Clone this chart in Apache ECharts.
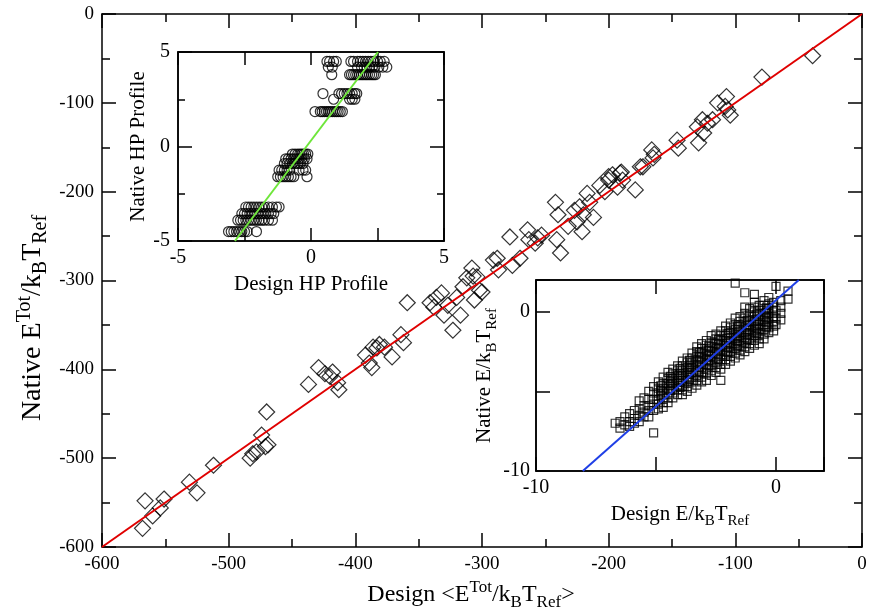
<!DOCTYPE html>
<html><head><meta charset="utf-8">
<script src="https://cdn.jsdelivr.net/npm/echarts@6/dist/echarts.min.js"></script>
<style>html,body{margin:0;padding:0;background:#fff}#c{width:870px;height:611px}</style>
</head><body><div id="c"></div><script>
// ---- main panel: design vs native total energy ----
const designTot = [-566,-568,-560,-554,-551,-531,-525,-512,-483,-481,-478,-469,-474,-470,-471,-437,-429,-424,-418,-414,-413,-420,-392,-389,-387,-386,-383,-381,-377,-371,-364,-362,-359,-341,-338,-336,-332,-330,-327,-323,-320,-317,-315,-312,-308,-306,-302,-300,-307,-304,-291,-288,-287,-276,-270,-278,-264,-263,-258,-256,-253,-241,-238,-242,-240,-232,-225,-227,-223,-221,-220,-217,-215,-212,-207,-203,-200,-197,-190,-193,-189,-179,-175,-200,-191,-173,-166,-165,-164,-146,-145,-130,-129,-126,-125,-122,-118,-114,-107,-106,-104,-108,-79,-39];
const nativeTot = [-548,-579,-565,-556,-546,-527,-539,-508,-500,-495,-493,-485,-474,-448,-487,-417,-398,-405,-403,-415,-423,-408,-384,-393,-398,-375,-376,-372,-375,-386,-361,-370,-325,-325,-330,-319,-314,-339,-328,-356,-319,-339,-307,-297,-286,-322,-311,-313,-295,-296,-277,-275,-288,-283,-275,-251,-243,-254,-258,-252,-249,-254,-269,-212,-226,-239,-234,-221,-217,-245,-226,-202,-212,-229,-193,-200,-183,-181,-178,-195,-187,-198,-172,-187,-179,-172,-153,-162,-158,-142,-151,-127,-145,-119,-134,-123,-119,-100,-93,-108,-114,-104,-71,-47];
const mainDiagonal = [[-600,-600],[0,0]];

// ---- inset 1: HP profile (rows: native value, design values) ----
const hpRows = [
  [4.5, [0.6,0.7,0.85,0.95,1.5,1.6,1.75,1.85,1.95,2.05,2.15,2.25,2.35,2.5,2.6,2.75]],
  [4.2, [0.65,0.8,1.75,1.9,2.0,2.1,2.2,2.3,2.4,2.55,2.7,2.85]],
  [3.8, [0.78,1.45,1.52,1.6,1.68,1.75,1.82,1.9,1.97,2.05,2.12,2.2,2.28,2.35,2.42]],
  [2.8, [0.45,1.05,1.15,1.25,1.35,1.45,1.55,1.65,1.72]],
  [2.5, [0.85,1.45,1.55,1.65]],
  [1.85,[0.15,0.35,0.42,0.5,0.58,0.65,0.72,0.8,0.88,0.95,1.02,1.1,1.18]],
  [-0.4,[-0.7,-0.6,-0.5,-0.42,-0.35,-0.28,-0.2,-0.12]],
  [-0.65,[-0.95,-0.85,-0.75,-0.65,-0.55,-0.45,-0.35,-0.25,-0.15]],
  [-0.9,[-1.0,-0.9,-0.8,-0.7,-0.6,-0.5,-0.4,-0.3]],
  [-1.25,[-1.2,-1.1,-1.0,-0.9,-0.8,-0.45,-0.3,-0.2]],
  [-1.6,[-1.25,-1.15,-1.05,-0.95,-0.85,-0.75,-0.65,-0.15]],
  [-3.2,[-2.45,-2.35,-2.25,-2.15,-2.05,-1.95,-1.85,-1.75,-1.6,-1.45,-1.3,-1.2]],
  [-3.55,[-2.6,-2.5,-2.4,-2.3,-2.2,-2.1,-2.0,-1.9,-1.8,-1.7,-1.6,-1.5,-1.4]],
  [-3.9,[-2.75,-2.65,-2.55,-2.45,-2.35,-2.25,-2.15,-2.05,-1.95,-1.85,-1.75,-1.6,-1.45]],
  [-4.5,[-3.1,-3.0,-2.9,-2.8,-2.7,-2.6,-2.5,-2.4,-2.05]]
];
const hpFit = [[-2.86,-5],[2.52,5]];

// ---- inset 2: per-residue energies (columns: design value, native values) ----
const eCols = [
  [-6.7,[-7.0]],[-6.5,[-6.9,-7.3]],[-6.3,[-6.6,-7.1]],[-6.1,[-6.4,-6.9,-7.2]],
  [-5.9,[-6.2,-6.7,-7.0]],[-5.7,[-5.6,-6.1,-6.5,-6.9]],[-5.5,[-5.4,-5.9,-6.3,-6.6]],
  [-5.3,[-5.0,-5.5,-5.9,-6.2,-6.6]],[-5.1,[-4.7,-5.1,-5.5,-5.8,-6.2,-7.6]],
  [-4.9,[-4.4,-4.8,-5.1,-5.5,-5.8,-6.1]],[-4.7,[-4.1,-4.5,-4.8,-5.1,-5.4,-5.7,-6.0]],
  [-4.5,[-3.8,-4.2,-4.5,-4.8,-5.1,-5.4,-5.7]],[-4.3,[-3.6,-3.9,-4.2,-4.5,-4.8,-5.1,-5.4]],
  [-4.1,[-3.4,-3.7,-4.0,-4.3,-4.6,-4.9,-5.2]],[-3.9,[-3.1,-3.4,-3.7,-4.0,-4.3,-4.6,-4.9,-5.2]],
  [-3.7,[-2.9,-3.2,-3.5,-3.8,-4.1,-4.4,-4.7,-5.0]],[-3.5,[-2.6,-2.9,-3.2,-3.5,-3.8,-4.1,-4.4,-4.8]],
  [-3.3,[-2.2,-2.5,-2.8,-3.1,-3.4,-3.7,-4.0,-4.3,-4.6]],[-3.1,[-2.0,-2.3,-2.6,-2.9,-3.2,-3.5,-3.8,-4.1,-4.4]],
  [-2.9,[-1.8,-2.1,-2.4,-2.7,-3.0,-3.3,-3.6,-3.9,-4.3]],[-2.7,[-1.5,-1.9,-2.2,-2.5,-2.8,-3.1,-3.4,-3.7,-4.0]],
  [-2.5,[-1.4,-1.7,-2.0,-2.3,-2.6,-2.9,-3.2,-3.5,-3.8]],[-2.3,[-1.2,-1.5,-1.8,-2.1,-2.4,-2.7,-3.0,-3.3,-3.6,-4.3]],
  [-2.1,[-0.9,-1.2,-1.5,-1.8,-2.1,-2.4,-2.7,-3.0,-3.3]],[-1.9,[-0.7,-1.0,-1.3,-1.6,-1.9,-2.2,-2.5,-2.8,-3.1]],
  [-1.7,[-0.4,-0.8,-1.1,-1.4,-1.7,-2.0,-2.3,-2.6,-2.9,1.8]],[-1.5,[-0.3,-0.6,-0.9,-1.2,-1.5,-1.8,-2.1,-2.4,-2.7]],
  [-1.3,[0.3,-0.1,-0.4,-0.7,-1.0,-1.3,-1.6,-1.9,-2.2,-2.5,1.2]],[-1.1,[0.2,-0.2,-0.5,-0.8,-1.1,-1.4,-1.7,-2.0,-2.3]],
  [-0.9,[0.6,0.3,0.0,-0.3,-0.6,-0.9,-1.2,-1.5,-1.8,-2.1,1.1]],[-0.7,[0.4,0.1,-0.2,-0.5,-0.8,-1.1,-1.4,-1.7,-2.0]],
  [-0.5,[0.7,0.4,0.1,-0.2,-0.5,-0.8,-1.1,-1.4,-1.7]],[-0.3,[0.9,0.5,0.2,-0.1,-0.4,-0.7,-1.0,-1.3]],
  [-0.1,[0.6,0.3,0.0,-0.3,-0.6,-0.9,-1.2]],[0.0,[1.6,0.1,-0.4,-0.8]],[0.2,[0.7,0.3,-0.1,-0.5]],[0.5,[1.3,0.8]],
  [-4.8,[-4.65,-4.95,-5.25]],[-4.4,[-4.05,-4.35,-4.65,-4.95]],[-4.0,[-3.55,-3.85,-4.15,-4.45,-4.75]],
  [-3.6,[-3.05,-3.35,-3.65,-3.95,-4.25]],[-3.2,[-2.55,-2.85,-3.15,-3.45,-3.75]],[-2.8,[-2.15,-2.45,-2.75,-3.05,-3.35]],
  [-2.4,[-1.75,-2.05,-2.35,-2.65,-2.95]],[-2.0,[-1.35,-1.65,-1.95,-2.25,-2.55]],[-1.6,[-0.95,-1.25,-1.55,-1.85,-2.15]],
  [-1.2,[-0.55,-0.85,-1.15,-1.45,-1.75]],[-0.8,[-0.15,-0.45,-0.75,-1.05,-1.35]],[-0.4,[0.25,-0.05,-0.35,-0.65,-0.95]]
];
const eFit = [[-8.05,-10],[0.95,2]];

const mainTicks = {min:-600, max:0, step:100};
const hpTicks = {min:-5, max:5, step:2.5};
const eTicks = {min:-10, max:2, step:5};

// ---- build ----
const FONT = '"Liberation Serif","Times New Roman",serif';
const BLK = '#000';
function rich(base, small){
  return {
    n:{fontFamily:FONT,fontSize:base,color:BLK,lineHeight:base+8},
    sup:{fontFamily:FONT,fontSize:small,color:BLK,lineHeight:small,verticalAlign:'top'},
    sub:{fontFamily:FONT,fontSize:small,color:BLK,lineHeight:small,verticalAlign:'bottom'}
  };
}
const mainPts = designTot.map((x,i)=>[x, nativeTot[i]]);
const hpPts = []; hpRows.forEach(r=>r[1].forEach(x=>hpPts.push([x, r[0]])));
const ePts = []; eCols.forEach(c=>c[1].forEach(y=>ePts.push([c[0], y])));

function axis(opt){
  const o = {
    type:'value', gridIndex:opt.g, min:opt.t.min, max:opt.t.max, interval:opt.interval || opt.t.step,
    position:opt.pos, z:opt.z||0,
    axisLine:{show:true,onZero:false,lineStyle:{color:BLK,width:1.5}},
    axisTick:{show:true,inside:true,length:opt.tl||14,lineStyle:{color:BLK,width:1.5}},
    minorTick:{show:!!opt.minor,splitNumber:opt.minor||2,length:opt.ml||8,lineStyle:{color:BLK,width:1.5}},
    splitLine:{show:false}, minorSplitLine:{show:false},
    axisLabel:{show:!!opt.labels,color:BLK,fontFamily:FONT,fontSize:opt.fs||18,margin:opt.lm||6,
      formatter:opt.fmt || (v=>String(v))},
  };
  if (opt.name){
    o.name = opt.name; o.nameLocation='middle'; o.nameGap = opt.gap;
    o.nameRotate = opt.rot || 0;
    o.nameTextStyle = {rich: rich(opt.nfs||20, opt.sfs||14)};
  }
  return o;
}
const hpFmt = v => (Math.abs(v % 5) < 1e-9 ? String(v) : '');
const eFmt = v => (v === -10 || v === 0 ? String(v) : '');

const option = {
  animation:false,
  backgroundColor:'#fff',
  grid:[
    {left:102, right:8, top:14, bottom:64},
    {left:178, top:52, width:266, height:189, show:true, backgroundColor:'#fff', borderColor:BLK, borderWidth:1.5, z:5},
    {left:536, top:280, width:288, height:191, show:true, backgroundColor:'#fff', borderColor:BLK, borderWidth:1.5, z:5}
  ],
  graphic:[
    {type:'text', x:471, y:595, z:20,
      style:{text:'{n|Design <E}{sup|Tot}{n|/k}{sub|B}{n|T}{sub|Ref}{n|>}', rich:rich(24,17), align:'center', verticalAlign:'middle'}},
    {type:'text', x:33, y:318, rotation:Math.PI/2, z:20,
      style:{text:'{n|Native E}{sup|Tot}{n|/k}{sub|B}{n|T}{sub|Ref}', rich:rich(28,20), align:'center', verticalAlign:'middle'}}
  ],
  xAxis:[
    axis({g:0,t:mainTicks,pos:'bottom',labels:true,minor:2,fs:19,lm:8}),
    axis({g:0,t:mainTicks,pos:'top',minor:2}),
    axis({g:1,t:hpTicks,pos:'bottom',labels:true,fmt:hpFmt,fs:20,lm:7,tl:13,z:6,
      name:'{n|Design HP Profile}',gap:29,nfs:21}),
    axis({g:1,t:hpTicks,pos:'top',tl:13,z:6}),
    axis({g:2,t:eTicks,pos:'bottom',labels:true,fmt:eFmt,fs:20,lm:7,z:6,
      name:'{n|Design E/k}{sub|B}{n|T}{sub|Ref}',gap:29,nfs:21,sfs:15}),
    axis({g:2,t:eTicks,pos:'top',z:6})
  ],
  yAxis:[
    axis({g:0,t:mainTicks,pos:'left',labels:true,minor:2,fs:19,lm:8}),
    axis({g:0,t:mainTicks,pos:'right',minor:2}),
    axis({g:1,t:hpTicks,pos:'left',labels:true,interval:5,minor:2,ml:7,fs:20,lm:8,z:6,
      name:'{n|Native HP Profile}',gap:16,rot:90,nfs:21}),
    axis({g:1,t:hpTicks,pos:'right',interval:5,minor:2,ml:7,z:6}),
    axis({g:2,t:eTicks,pos:'left',labels:true,fmt:eFmt,fs:20,lm:6,z:6,
      name:'{n|Native E/k}{sub|B}{n|T}{sub|Ref}',gap:36,rot:90,nfs:21,sfs:15}),
    axis({g:2,t:eTicks,pos:'right',z:6})
  ],
  series:[
    {type:'scatter',xAxisIndex:0,yAxisIndex:0,data:mainPts,symbol:'diamond',symbolSize:16,z:3,
      itemStyle:{color:'rgba(0,0,0,0)',borderColor:BLK,borderWidth:1.2},emphasis:{disabled:true}},
    {type:'line',xAxisIndex:0,yAxisIndex:0,data:mainDiagonal,showSymbol:false,symbol:'none',z:4,
      lineStyle:{color:'#e00000',width:2},emphasis:{disabled:true}},
    {type:'scatter',xAxisIndex:2,yAxisIndex:2,data:hpPts,symbol:'circle',symbolSize:10,z:7,
      itemStyle:{color:'rgba(0,0,0,0)',borderColor:BLK,borderWidth:1.2},emphasis:{disabled:true}},
    {type:'line',xAxisIndex:2,yAxisIndex:2,data:hpFit,showSymbol:false,symbol:'none',z:8,
      lineStyle:{color:'#6ee63a',width:2},emphasis:{disabled:true}},
    {type:'scatter',xAxisIndex:4,yAxisIndex:4,data:ePts,symbol:'rect',symbolSize:8,z:7,
      itemStyle:{color:'rgba(0,0,0,0)',borderColor:BLK,borderWidth:1.2},emphasis:{disabled:true}},
    {type:'line',xAxisIndex:4,yAxisIndex:4,data:eFit,showSymbol:false,symbol:'none',z:8,
      lineStyle:{color:'#1f3fe6',width:2},emphasis:{disabled:true}}
  ]
};
const chart = echarts.init(document.getElementById('c'), null, {renderer:'canvas'});
chart.setOption(option);
</script></body></html>
